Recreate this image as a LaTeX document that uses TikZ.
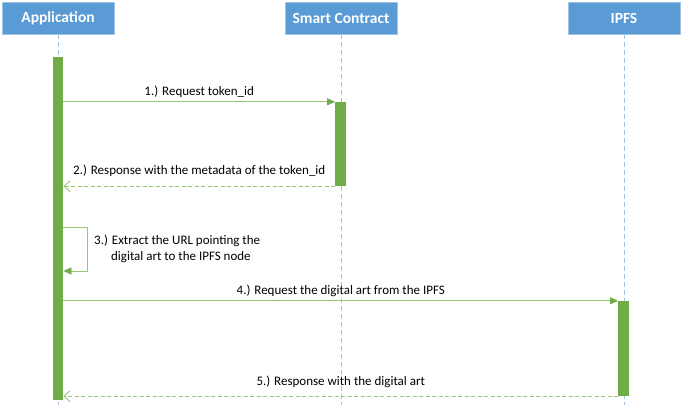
\documentclass[tikz,border=0pt]{standalone}
\usepackage{fontspec}
\setmainfont{Carlito}
\usetikzlibrary{arrows.meta,positioning}
\definecolor{sqblue}{RGB}{91,155,213}
\definecolor{sqline}{RGB}{157,195,230}
\definecolor{sqgreen}{RGB}{112,173,71}
\definecolor{sqlight}{RGB}{150,200,115}

\begin{document}
\begin{tikzpicture}[x=1pt,y=-1pt,
  actor/.style={fill=sqblue,draw=sqline,line width=0.6pt,minimum width=112pt,minimum height=32pt,
    text=white,font=\fontsize{15.5}{18}\selectfont\bfseries,inner sep=0pt},
  bar/.style={fill=sqgreen,draw=none,minimum width=10.5pt,inner sep=0pt},
  lifeline/.style={sqline,dash pattern=on 5pt off 3pt,line width=0.7pt},
  msg/.style={sqlight,line width=0.9pt,-{Triangle[length=8pt,width=7pt,fill=sqgreen,color=sqgreen]}},
  reply/.style={sqlight,line width=0.9pt,dash pattern=on 4pt off 2.5pt,-{Straight Barb[length=6pt,width=11pt]}},
  lbl/.style={text=black,font=\fontsize{13}{16}\selectfont,inner sep=1pt}]
\useasboundingbox (0,0) rectangle (681,411);
% Actors
\node[actor] (app) at (58,18) {Application};
\node[actor] (sc) at (341,18) {Smart Contract};
\node[actor] (ipfs) at (624,18) {IPFS};
% Lifelines
\foreach \a in {app,sc,ipfs} {\draw[lifeline] (\a.south) -- ++(0,371);}
% Activation bars
\node[bar,minimum height=343pt] (appbar) at (58,228.5) {};
\node[bar,minimum height=84pt] (scbar) at (340.5,144) {};
\node[bar,minimum height=95pt] (ipfsbar) at (623.5,348.5) {};
% Messages
\draw[msg] (scbar.north west -| appbar.east) -- (scbar.north west)
  node[lbl,midway,above=3pt] {1.) Request token\_id};
\draw[reply] (scbar.south west) -- (scbar.south west -| appbar.east)
  node[lbl,midway,above=8pt] {2.) Response with the metadata of the token\_id};
% Self call
\coordinate (loop) at (87,227);
\draw[msg] (loop -| appbar.east) -- (loop) -- (loop |- 0,271) -- (appbar.east |- 0,271);
\node[lbl,align=left,anchor=north west] (note) at (93,234) {3.) Extract the URL pointing the\\\hspace{1.3em}digital art to the IPFS node};
\draw[msg] (ipfsbar.north west -| appbar.east) -- (ipfsbar.north west)
  node[lbl,midway,above=3pt] {4.) Request the digital art from the IPFS};
\draw[reply] (ipfsbar.south west) -- (ipfsbar.south west -| appbar.east)
  node[lbl,midway,above=7pt] {5.) Response with the digital art};
\end{tikzpicture}
\end{document}
